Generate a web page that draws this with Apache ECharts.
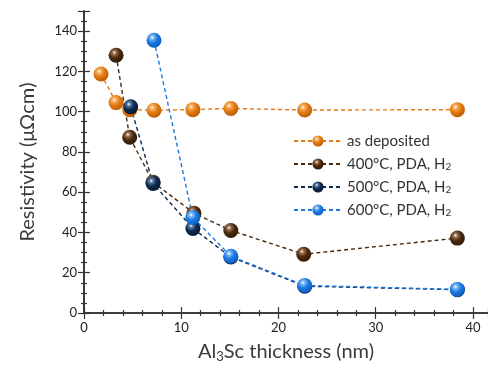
<!DOCTYPE html>
<html><head><meta charset="utf-8">
<script src="https://cdn.jsdelivr.net/npm/echarts@6/dist/echarts.min.js"></script>
<style>html,body{margin:0;padding:0;background:#fff}#c{width:488px;height:368px}</style>
</head><body><div id="c"></div>
<script>
// Data
const seriesNames = ['as deposited', '400°C, PDA, H₂', '500°C, PDA, H₂', '600°C, PDA, H₂'];
const xAsDep = [1.75, 3.3, 4.7, 7.2, 11.2, 15.1, 22.7, 38.4];
const yAsDep = [118.7, 104.5, 101, 100.7, 101, 101.6, 100.8, 101];
const x400 = [3.3, 4.7, 7.1, 11.3, 15.1, 22.6, 38.4];
const y400 = [128, 87.3, 65, 49.6, 41, 29.2, 37.2];
const x500 = [4.8, 7.1, 11.2, 15.1, 22.7, 38.4];
const y500 = [102.4, 64.3, 42, 27.8, 13.3, 11.6];
const x600 = [7.2, 11.2, 15.1, 22.7, 38.4];
const y600 = [135.5, 47.4, 28.2, 13.7, 11.7];
const xTicks = [0, 10, 20, 30, 40];
const yTicks = [0, 20, 40, 60, 80, 100, 120, 140];

const baseColors = ['#e47a12', '#4b2a0e', '#0d2b50', '#1a7ae2'];
const lightColors = ['#f7b060', '#9a7050', '#5a7aa0', '#7ab8f5'];
const darkColors = ['#b85a00', '#2e1804', '#05172e', '#0b5cc0'];

function sphere(i) {
  return {
    type: 'radial', x: 0.38, y: 0.32, r: 0.72,
    colorStops: [
      {offset: 0, color: '#ffffff'},
      {offset: 0.18, color: lightColors[i]},
      {offset: 0.5, color: baseColors[i]},
      {offset: 1, color: darkColors[i]}
    ]
  };
}
function pairs(xs, ys) { return xs.map((x, i) => [x, ys[i]]); }
const datasets = [pairs(xAsDep, yAsDep), pairs(x400, y400), pairs(x500, y500), pairs(x600, y600)];

const axisColor = '#333';
const font = 'Lato';

function legendText(n) {
  const m = n.match(/^(.*H)₂$/);
  if (m) return '{t|' + m[1] + '}{sub|2}';
  return '{t|' + n + '}';
}

const chart = echarts.init(document.getElementById('c'), null, {renderer: 'canvas'});
chart.setOption({
  animation: false,
  textStyle: {fontFamily: font},
  grid: {left: 84, top: 11, width: 404, bottom: 50, containLabel: false},
  legend: {
    orient: 'vertical', left: 288, top: 127,
    itemWidth: 48, itemHeight: 14, itemGap: 5,
    data: seriesNames,
    formatter: legendText,
    textStyle: {
      fontFamily: font, fontSize: 15, color: '#333',
      rich: {
        t: {fontSize: 15, color: '#333', fontFamily: font, height: 18, lineHeight: 18},
        sub: {fontSize: 10, verticalAlign: 'bottom', padding: [6, 0, 0, 0], fontFamily: font, color: '#333', height: 12}
      }
    }
  },
  xAxis: [{
    type: 'value', min: 0, max: 41.55, interval: 10,
    name: '{t|Al}{sub|3}{t|Sc thickness (nm)}', nameLocation: 'middle', nameGap: 28,
    nameTextStyle: {fontSize: 20, color: '#3a3a3a', fontFamily: font,
      rich: {
        t: {fontSize: 20, color: '#3a3a3a', fontFamily: font},
        sub: {fontSize: 13, padding: [9, 0, 0, 0], verticalAlign: 'bottom', color: '#3a3a3a', fontFamily: font}
      }},
    axisLine: {show: true, lineStyle: {color: axisColor, width: 1.6}},
    axisTick: {show: true, inside: true, length: 6, lineStyle: {color: axisColor, width: 1.2}},
    minorTick: {show: true, splitNumber: 5, length: 3, lineStyle: {color: axisColor, width: 1.2}},
    axisLabel: {fontSize: 13, color: '#222', margin: 8, showMaxLabel: false, fontFamily: font,
      formatter: v => (xTicks.indexOf(v) >= 0 ? String(v) : '')},
    splitLine: {show: false}
  }, {
    type: 'value', position: 'top', min: 0, max: 41.55, interval: 10,
    axisLine: {show: true, lineStyle: {color: axisColor, width: 1.6}},
    axisTick: {show: true, inside: true, length: 6, lineStyle: {color: axisColor, width: 1.2}},
    minorTick: {show: true, splitNumber: 5, length: 3, lineStyle: {color: axisColor, width: 1.2}},
    axisLabel: {show: false}, splitLine: {show: false}
  }],
  yAxis: [{
    type: 'value', min: 0, max: 150, interval: 20,
    name: 'Resistivity (μΩcm)', nameLocation: 'middle', nameGap: 46,
    nameTextStyle: {fontSize: 20, color: '#3a3a3a', fontFamily: font},
    axisLine: {show: true, lineStyle: {color: axisColor, width: 1.6}},
    axisTick: {show: true, inside: true, length: 6, lineStyle: {color: axisColor, width: 1.2}},
    minorTick: {show: true, splitNumber: 4, length: 3, lineStyle: {color: axisColor, width: 1.2}},
    axisLabel: {fontSize: 13, color: '#222', margin: 7, showMaxLabel: false, fontFamily: font,
      formatter: v => (yTicks.indexOf(v) >= 0 ? String(v) : '')},
    splitLine: {show: false}
  }, {
    type: 'value', position: 'right', min: 0, max: 150, interval: 20,
    axisLine: {show: true, lineStyle: {color: axisColor, width: 1.6}},
    axisTick: {show: true, inside: true, length: 6, lineStyle: {color: axisColor, width: 1.2}},
    minorTick: {show: true, splitNumber: 4, length: 3, lineStyle: {color: axisColor, width: 1.2}},
    axisLabel: {show: false}, splitLine: {show: false}
  }],
  series: datasets.map((d, i) => ({
    name: seriesNames[i], type: 'line', data: d,
    symbol: 'circle', symbolSize: 15, showSymbol: true,
    lineStyle: {color: baseColors[i], width: 1.4, type: [4, 3]},
    itemStyle: {color: sphere(i), borderWidth: 0},
    emphasis: {disabled: true}
  }))
});
</script>
</body></html>
